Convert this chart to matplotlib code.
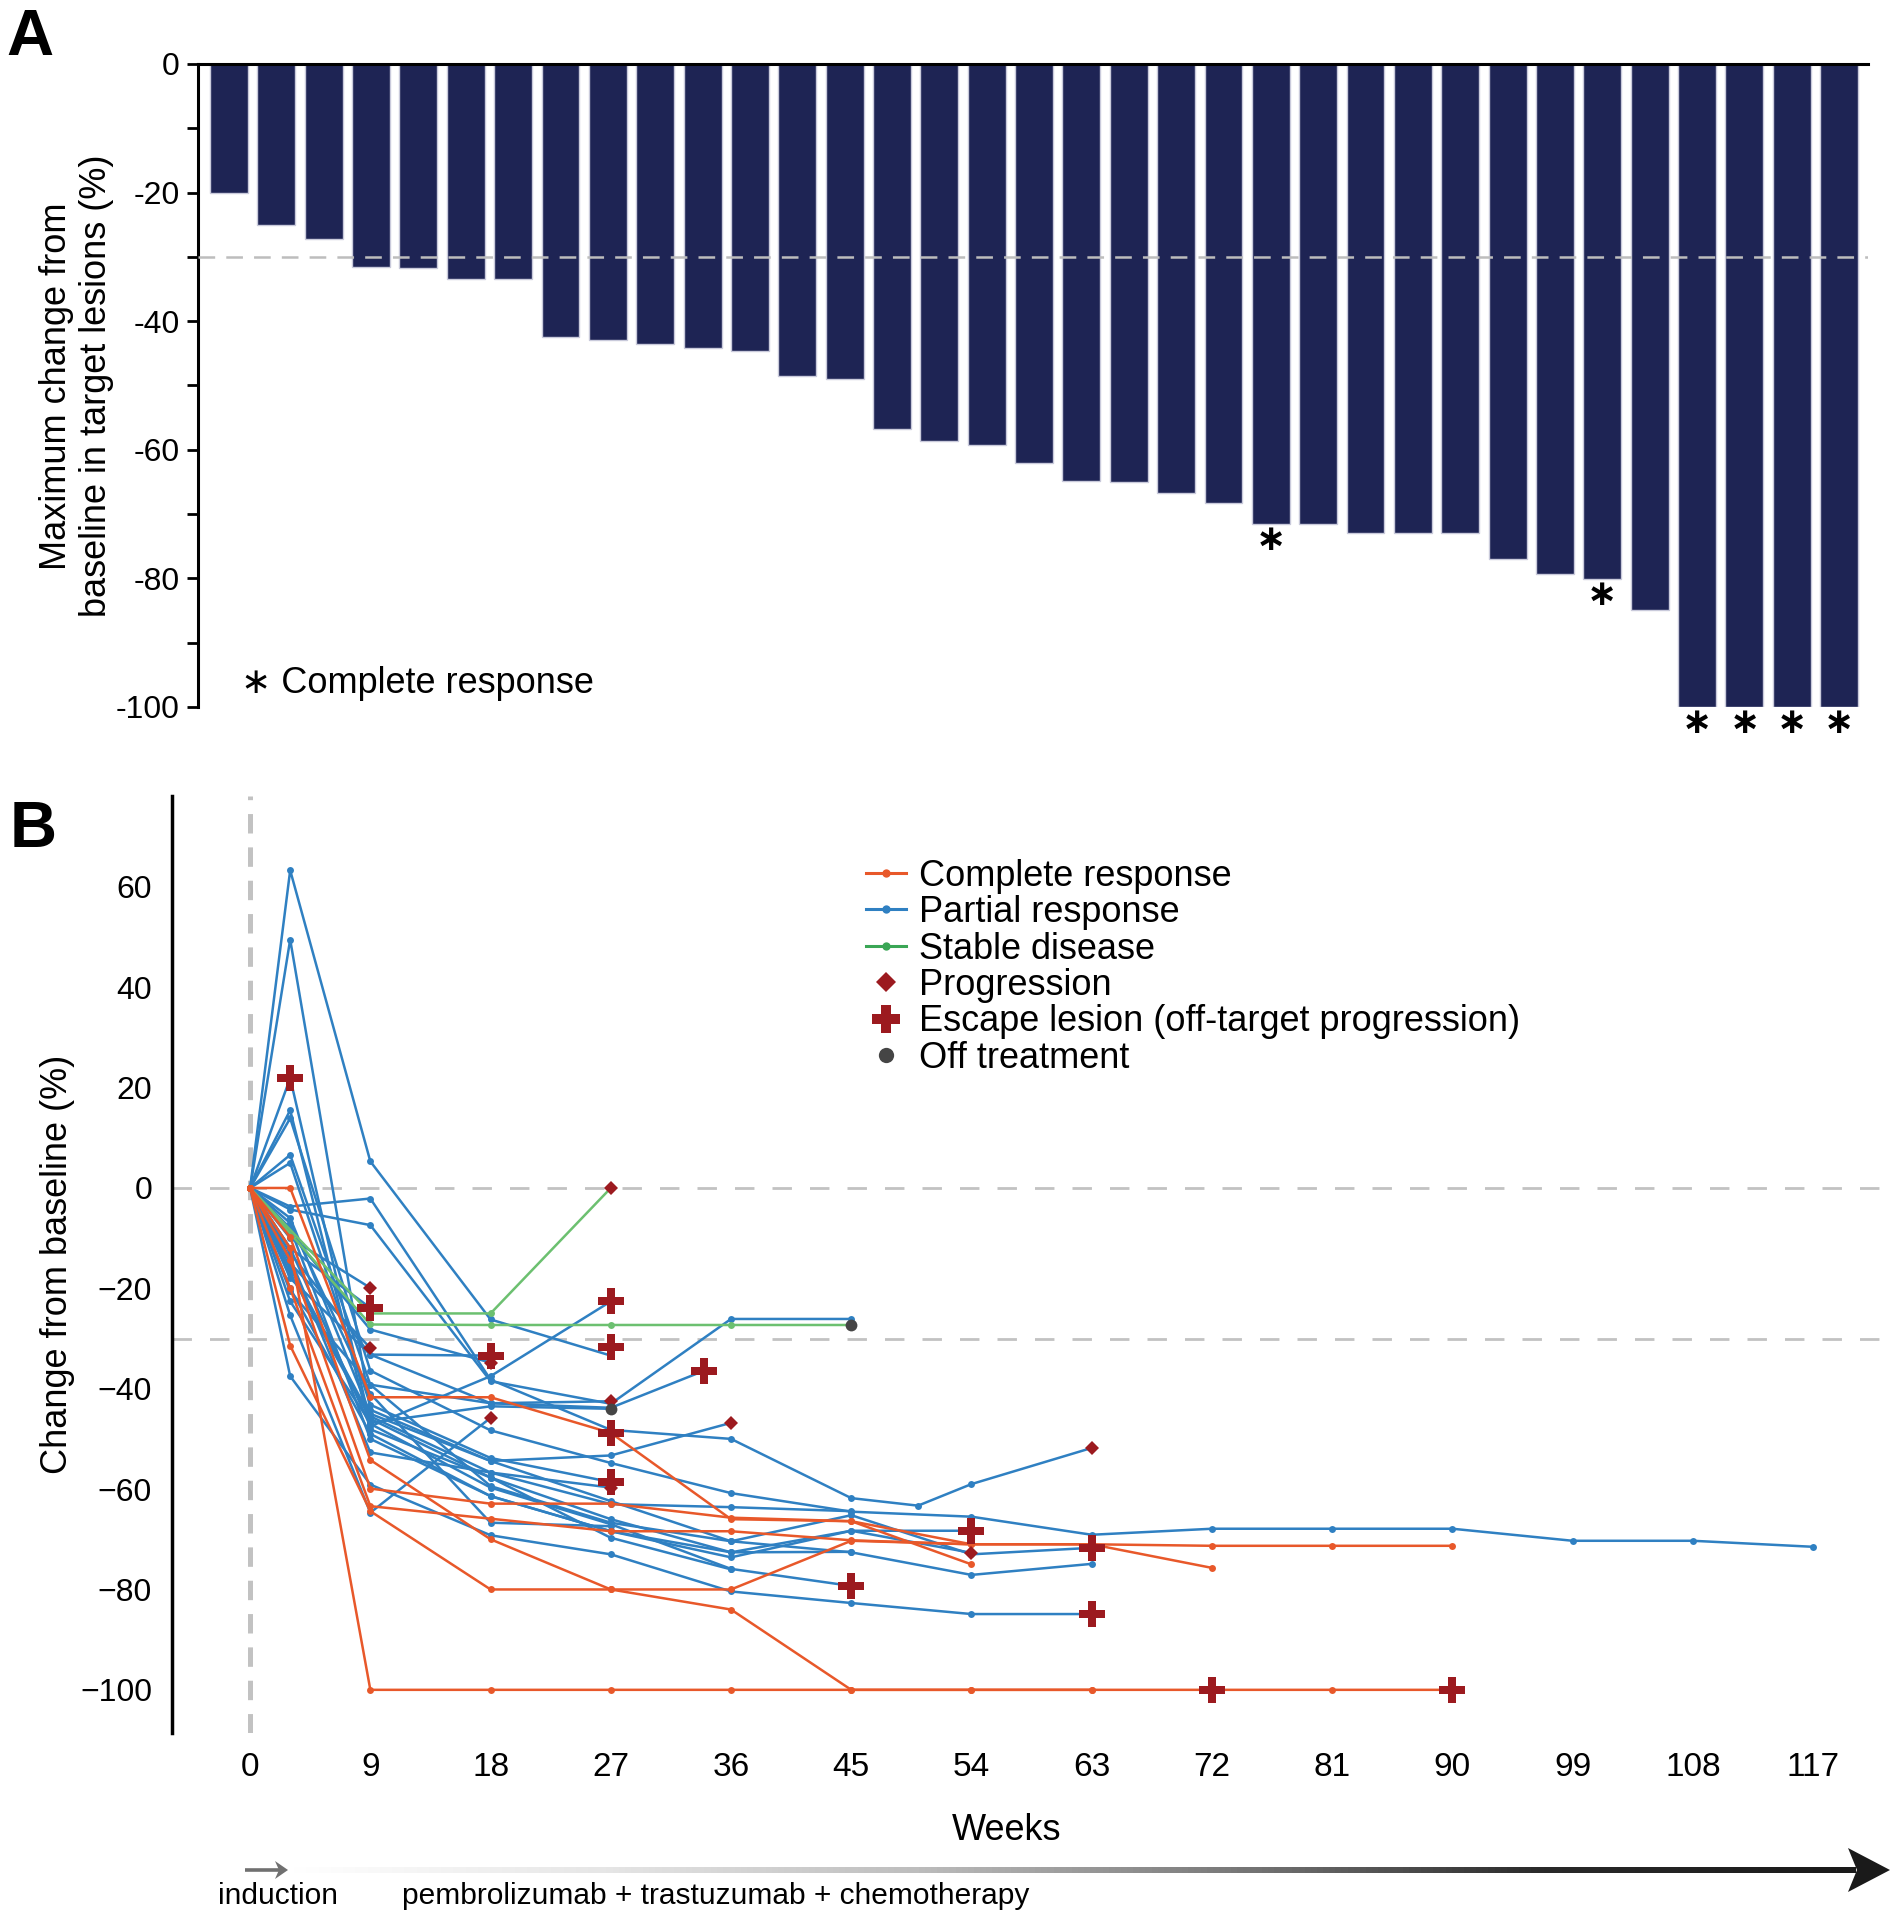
import numpy as np
import matplotlib
matplotlib.use("Agg")
import matplotlib.pyplot as plt
from matplotlib.lines import Line2D
from matplotlib.patches import Polygon
from matplotlib.colors import LinearSegmentedColormap

plt.rcParams["font.family"] = ["Liberation Sans", "DejaVu Sans"]
plt.rcParams["lines.scale_dashes"] = False

# ---- panel A: best change in target lesions, one bar per patient
max_change = [-20.0, -25.0, -27.3, -31.6, -31.8, -33.4, -33.4, -42.4, -42.9, -43.5,
              -44.1, -44.6, -48.5, -49.0, -56.8, -58.7, -59.3, -62.1, -64.8, -65.0,
              -66.8, -68.3, -71.5, -71.6, -72.9, -72.9, -72.9, -77.0, -79.4, -80.1,
              -84.9, -100.0, -100.0, -100.0, -100.0]
complete_idx = [22, 29, 31, 32, 33, 34]
a_ticks = [0, -20, -40, -60, -80, -100]
a_tick_labels = ["0", "-20", "-40", "-60", "-80", "-100"]
a_minor_ticks = [-10, -30, -50, -70, -90]

# ---- panel B: change from baseline over time
cr_weeks = [
    [0, 3, 9, 18, 27, 36, 45, 54, 63, 72, 81, 90],
    [0, 3, 9, 18, 27, 36, 45, 54, 63, 72, 81, 90],
    [0, 3, 9, 18, 27, 36, 45, 54, 63],
    [0, 3, 9, 18, 27, 36, 45, 54],
    [0, 3, 9, 18, 27, 36, 45, 54],
    [0, 3, 9, 18, 27, 36, 45, 54, 63, 72],
]
cr_values = [
    [0, -12.0, -100, -100, -100, -100, -100, -100, -100, -100, -100, -100],
    [0, -31.4, -64.4, -80.0, -80.0, -80.0, -70.3, -71.0, -71.0, -71.3, -71.3, -71.3],
    [0, -9.8, -54.2, -70.0, -80.0, -84.0, -100, -100, -100],
    [0, 0.0, -41.7, -41.7, -48.8, -66.0, -66.4, -71.0],
    [0, -14.3, -59.9, -62.9, -62.9, -65.7, -66.4, -75.0],
    [0, -20.0, -63.4, -65.9, -68.4, -68.4, -70.2, -71.0, -71.0, -75.7],
]

pr_weeks = [
    [0, 3, 9, 18, 27],
    [0, 3, 9, 18, 27, 36, 45, 54, 63],
    [0, 3, 9, 18, 27, 36, 45],
    [0, 3, 9, 18, 27, 36, 45, 54],
    [0, 3, 9, 18, 27, 36, 45, 54, 63, 72, 81, 90, 99, 108, 117],
    [0, 3, 9, 18, 27, 36, 45, 50, 54, 63],
    [0, 3, 9, 18, 27, 36, 45],
    [0, 3, 9, 18, 27, 34],
    [0, 3, 9, 18, 27],
    [0, 3, 9, 18, 27],
    [0, 3, 9],
    [0, 3, 9],
    [0, 3, 9],
    [0, 3, 9, 18],
    [0, 3, 9, 18],
    [0, 3, 9, 18],
    [0, 3, 9, 18, 27],
    [0, 3, 9, 18, 27],
    [0, 3, 9, 18, 27],
    [0, 3, 9, 18, 27, 36, 45, 54, 63],
    [0, 3, 9, 18, 27, 36, 45, 54, 63],
    [0, 3, 9, 18, 27, 36, 45, 54],
    [0, 3, 9, 18, 27, 36, 45],
    [0, 3, 9, 18, 27, 36],
    [0, 3, 9, 18, 27, 36, 45],
    [0, 3, 9, 18, 27, 36],
    [0, 3, 9, 18, 27],
]
pr_values = [
    [0, 63.3, 5.3, -26.2, -33.4],
    [0, 49.5, -44.2, -54.4, -62.4, -70.4, -65.2, -73.0, -71.7],
    [0, 21.9, -47.0, -59.7, -67.0, -75.9, -79.3],
    [0, 15.5, -48.1, -57.7, -66.0, -72.6, -68.3, -72.7],
    [0, 13.9, -36.4, -48.3, -54.8, -60.8, -64.5, -65.5, -69.1, -67.9, -67.9, -67.9, -70.3, -70.3, -71.5],
    [0, -3.7, -2.1, -38.2, -48.2, -50.0, -61.8, -63.3, -59.0, -51.8],
    [0, -4.3, -7.4, -38.5, -43.0, -26.1, -26.1],
    [0, -13.0, -33.2, -42.9, -43.8, -36.4],
    [0, -20.6, -39.2, -42.9, -42.5],
    [0, -22.6, -46.8, -43.5, -44.0],
    [0, -10.0, -19.9],
    [0, -12.0, -23.9],
    [0, -15.0, -31.9],
    [0, -18.0, -33.2, -33.4],
    [0, -9.0, -28.2, -34.8],
    [0, -25.4, -64.7, -45.8],
    [0, -12.0, -47.5, -37.5, -22.6],
    [0, 5.0, -43.2, -53.8, -58.6],
    [0, -16.0, -45.5, -56.7, -59.7],
    [0, -37.5, -59.1, -69.2, -73.0, -80.4, -82.7, -84.9, -84.9],
    [0, 6.6, -39.2, -59.4, -66.7, -70.4, -72.6, -77.1, -74.9],
    [0, -8.0, -50.0, -61.4, -68.4, -73.6, -68.3, -68.3],
    [0, -14.0, -52.7, -56.7, -63.0, -63.6, -64.4],
    [0, -6.0, -45.0, -54.4, -53.3, -46.8],
    [0, -20.0, -49.0, -61.4, -68.4, -72.6, -72.5],
    [0, -17.0, -46.0, -57.7, -69.7, -76.0],
    [0, -7.0, -41.0, -66.7, -67.4],
]

sd_weeks = [[0, 9, 18, 27], [0, 9, 18, 27, 36, 45]]
sd_values = [[0, -25.0, -25.0, 0.0], [0, -27.2, -27.3, -27.3, -27.3, -27.3]]

prog_weeks = [9, 9, 18, 18, 27, 27, 27, 36, 54, 63]
prog_values = [-19.9, -31.9, -34.8, -45.8, 0.0, -42.5, -59.7, -46.8, -72.7, -51.8]
escape_weeks = [3, 9, 18, 27, 27, 27, 27, 34, 45, 54, 63, 63, 72, 90]
escape_values = [21.9, -23.9, -33.4, -22.6, -31.7, -48.8, -58.6, -36.4, -79.3, -68.3, -71.7, -84.9, -100, -100]
off_weeks = [27, 45]
off_values = [-44.0, -27.3]

week_ticks = [0, 9, 18, 27, 36, 45, 54, 63, 72, 81, 90, 99, 108, 117]
b_ticks = [60, 40, 20, 0, -20, -40, -60, -80, -100]
legend_labels = ["Complete response", "Partial response", "Stable disease", "Progression",
                 "Escape lesion (off-target progression)", "Off treatment"]

navy = "#1e2454"
c_cr = "#e8582a"
c_pr = "#2f80c2"
c_sd = "#6cc070"
c_red = "#9c1a1f"
c_off = "#454545"
c_dash = "#c2c2c2"

fig = plt.figure(figsize=(19.02, 19.20), dpi=100)

# ---------------- panel A
ax_a = fig.add_axes([0.1041, 0.6318, 0.8780, 0.3349])
x_a = np.arange(len(max_change))
ax_a.bar(x_a, max_change, width=0.8, color=navy, edgecolor="#c9cadb", linewidth=1.0, zorder=2)
ax_a.axhline(-30, color="#bdbdbd", lw=1.8, dashes=(12, 8), zorder=3)
for i in complete_idx:
    ax_a.text(x_a[i], max_change[i] - 2.6, "\u2217", ha="center", va="center",
              fontsize=26, fontweight="bold", clip_on=False)
ax_a.text(0.25, -96.3, "\u2217 Complete response", ha="left", va="center", fontsize=26)

ax_a.set_xlim(-0.655, 34.61)
ax_a.set_ylim(-100, 0)
ax_a.set_yticks(a_ticks)
ax_a.set_yticklabels(a_tick_labels)
ax_a.set_yticks(a_minor_ticks, minor=True)
ax_a.tick_params(axis="y", which="both", length=8, width=2, labelsize=23, pad=5)
ax_a.set_xticks([])
ax_a.spines["right"].set_visible(False)
ax_a.spines["bottom"].set_visible(False)
ax_a.spines["left"].set_linewidth(2.2)
ax_a.spines["top"].set_linewidth(2.2)
ax_a.spines["top"].set_zorder(4)

fig.text(76.5 / 1902, 1 - 386 / 1920, "Maximum change from\nbaseline in target lesions (%)",
         rotation=90, ha="center", va="center", fontsize=26, multialignment="center")

# ---------------- panel B
ax_b = fig.add_axes([0.0902, 0.0974, 0.9066, 0.4880])
ax_b.axvline(0, color=c_dash, lw=3.6, dashes=(14, 10), zorder=0)
ax_b.axhline(0, color=c_dash, lw=2.0, dashes=(14, 13), zorder=0)
ax_b.axhline(-30, color=c_dash, lw=2.0, dashes=(14, 13), zorder=0)

for w, v in zip(pr_weeks, pr_values):
    ax_b.plot(w, v, color=c_pr, lw=1.8, marker="o", ms=5, mew=0, zorder=2)
for w, v in zip(sd_weeks, sd_values):
    ax_b.plot(w, v, color=c_sd, lw=1.8, marker="o", ms=5, mew=0, zorder=2)
for w, v in zip(cr_weeks, cr_values):
    ax_b.plot(w, v, color=c_cr, lw=1.8, marker="o", ms=5, mew=0, zorder=2)

ax_b.plot(prog_weeks, prog_values, ls="none", marker="D", ms=7.5, color=c_red, mew=0, zorder=4)
ax_b.plot(escape_weeks, escape_values, ls="none", marker="P", ms=19, color=c_red, mew=0, zorder=5)
ax_b.plot(off_weeks, off_values, ls="none", marker="o", ms=8.5, color=c_off, mew=0, zorder=4)

ax_b.set_xlim(-5.88, 123.2)
ax_b.set_ylim(-108.6, 78.1)
ax_b.set_xticks(week_ticks)
ax_b.set_yticks(b_ticks)
ax_b.tick_params(axis="x", length=0, pad=14, labelsize=24)
ax_b.tick_params(axis="y", length=0, pad=14, labelsize=23)
for s in ["right", "top", "bottom"]:
    ax_b.spines[s].set_visible(False)
ax_b.spines["left"].set_linewidth(2.5)
ax_b.set_ylabel("Change from baseline (%)", fontsize=26, labelpad=4)

handles = [
    Line2D([], [], color=c_cr, lw=2.2, marker="o", ms=6, mew=0),
    Line2D([], [], color=c_pr, lw=2.2, marker="o", ms=6, mew=0),
    Line2D([], [], color="#3aa655", lw=2.2, marker="o", ms=6, mew=0),
    Line2D([], [], ls="none", marker="D", ms=10, color=c_red, mew=0),
    Line2D([], [], ls="none", marker="P", ms=20, color=c_red, mew=0),
    Line2D([], [], ls="none", marker="o", ms=11, color=c_off, mew=0),
]
ax_b.legend(handles, legend_labels, loc="upper left", bbox_to_anchor=(866 / 1902, 0.5528),
            bbox_transform=fig.transFigure, frameon=False, fontsize=26, handlelength=1.1,
            handletextpad=0.38, labelspacing=0.04, borderpad=0, borderaxespad=0)

fig.text(1007 / 1902, 1 - 1830 / 1920, "Weeks", ha="center", va="center", fontsize=26)

# panel letters
fig.text(6 / 1902, 1 - 55 / 1920, "A", fontsize=47, fontweight="bold", va="baseline")
fig.text(10 / 1902, 1 - 847 / 1920, "B", fontsize=47, fontweight="bold", va="baseline")

# ---------------- treatment arrow (pixel coordinates overlay)
ax_o = fig.add_axes([0, 0, 1, 1])
ax_o.set_xlim(0, 1902)
ax_o.set_ylim(0, 1920)
ax_o.axis("off")
grad = np.linspace(0, 1, 512).reshape(1, -1)
arrow_cmap = LinearSegmentedColormap.from_list(
    "arrow", ["#ffffff", "#e6e6e6", "#bdbdbd", "#7a7a7a", "#2a2a2a", "#1a1a1a"])
ax_o.imshow(grad, cmap=arrow_cmap, extent=(288, 1856, 47, 53), aspect="auto")
ax_o.add_patch(Polygon([(1848, 72), (1890, 50), (1848, 28), (1857, 50)], closed=True,
                       color="#1a1a1a", lw=0))
ax_o.plot([245, 280], [50, 50], color="#707070", lw=2.6, solid_capstyle="butt")
ax_o.add_patch(Polygon([(275, 59), (288, 50), (275, 41), (279, 50)], closed=True,
                       color="#707070", lw=0))
ax_o.text(278, 24, "induction", ha="center", va="center", fontsize=21.5)
ax_o.text(402, 24, "pembrolizumab + trastuzumab + chemotherapy", ha="left", va="center",
          fontsize=21.5)

fig.savefig("out.png", dpi=100)
